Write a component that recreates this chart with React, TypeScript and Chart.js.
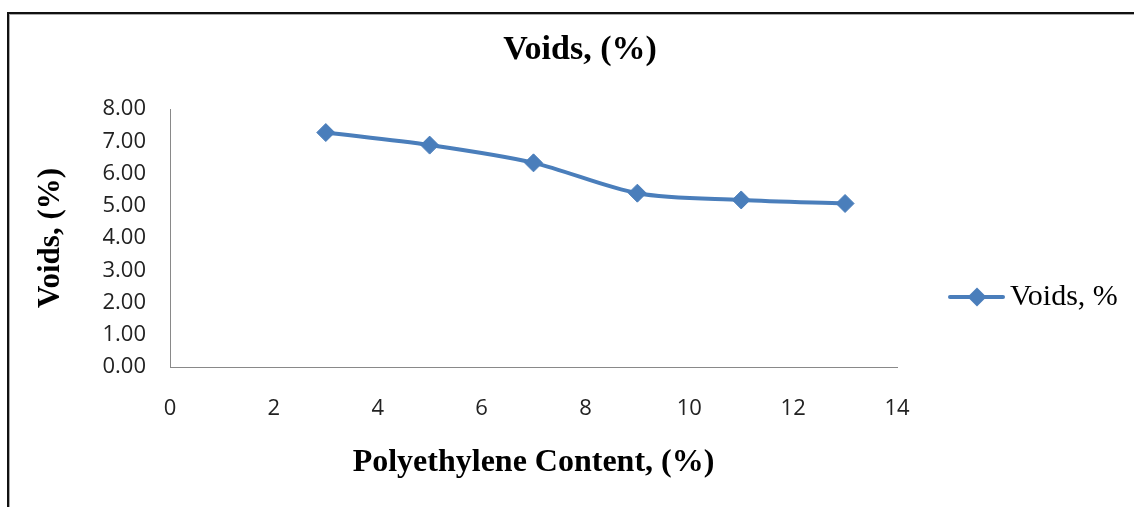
import React, { useEffect, useRef } from "react";
import { Chart, registerables } from "chart.js";

Chart.register(...registerables);

const polyethyleneContent = [3, 5, 7, 9, 11, 13];
const voidsValues = [7.27, 6.88, 6.33, 5.39, 5.18, 5.07];
const seriesLabel = "Voids, %";
const chartTitle = "Voids, (%)";
const xTitle = "Polyethylene Content, (%)";
const yTitle = "Voids, (%)";

const BLUE = "#4A7EBB";

const lineLegendPlugin = {
  id: "lineLegend",
  afterDraw(chart: any) {
    const ds = chart.data.datasets[0];
    const { ctx, chartArea } = chart;
    const x0 = chartArea.right + 53;
    const y = chartArea.top + 188;
    ctx.save();
    ctx.strokeStyle = ds.borderColor;
    ctx.lineWidth = 4;
    ctx.lineCap = "round";
    ctx.beginPath();
    ctx.moveTo(x0, y);
    ctx.lineTo(x0 + 53, y);
    ctx.stroke();
    const cx = x0 + 27;
    const r = 9.5;
    ctx.fillStyle = ds.pointBackgroundColor;
    ctx.beginPath();
    ctx.moveTo(cx, y - r);
    ctx.lineTo(cx + r, y);
    ctx.lineTo(cx, y + r);
    ctx.lineTo(cx - r, y);
    ctx.closePath();
    ctx.fill();
    ctx.fillStyle = "#000";
    ctx.font = '30px "Liberation Serif"';
    ctx.textBaseline = "middle";
    ctx.textAlign = "left";
    ctx.fillText(ds.label, x0 + 60, y);
    ctx.restore();
  },
};

export default function App() {
  const ref = useRef<HTMLCanvasElement | null>(null);

  useEffect(() => {
    if (!ref.current) return;
    const chart = new Chart(ref.current, {
      type: "line",
      data: {
        datasets: [
          {
            label: seriesLabel,
            data: polyethyleneContent.map((x, i) => ({ x, y: voidsValues[i] })),
            borderColor: BLUE,
            backgroundColor: BLUE,
            pointBackgroundColor: BLUE,
            pointBorderColor: BLUE,
            borderWidth: 4,
            pointStyle: "rectRot",
            pointRadius: 9,
            pointBorderWidth: 1,
            tension: 0.3,
            fill: false,
          },
        ],
      },
      plugins: [lineLegendPlugin],
      options: {
        responsive: false,
        animation: false,
        layout: { padding: { left: 26, right: 0, top: 0, bottom: 0 } },
        plugins: {
          legend: { display: false },
          tooltip: { enabled: false },
          title: {
            display: true,
            text: chartTitle,
            color: "#000",
            font: { family: '"Liberation Serif"', size: 34, weight: "bold", lineHeight: 1.2 },
            padding: { top: 30, bottom: 38.2 },
          },
        },
        scales: {
          x: {
            type: "linear",
            min: 0,
            max: 14,
            grid: { display: false, drawTicks: false },
            border: { display: true, color: "#898989", width: 1 },
            ticks: {
              stepSize: 2,
              autoSkip: false,
              maxRotation: 0,
              padding: 29,
              color: "#222",
              font: { family: '"Open Sans"', size: 22, lineHeight: 1.2 },
            },
            title: {
              display: true,
              text: xTitle,
              color: "#000",
              font: { family: '"Liberation Serif"', size: 32, weight: "bold", lineHeight: 1.2 },
              padding: { top: 0, bottom: 25 },
            },
            afterFit(scale: any) {
              scale.height = 140;
            },
          },
          y: {
            type: "linear",
            min: 0,
            max: 8,
            grid: { display: false, drawTicks: false },
            border: { display: true, color: "#898989", width: 1 },
            ticks: {
              stepSize: 1,
              padding: 24,
              color: "#222",
              font: { family: '"Open Sans"', size: 22, lineHeight: 1.2 },
              callback: (v: any) => Number(v).toFixed(2),
            },
            title: {
              display: true,
              text: yTitle,
              color: "#000",
              font: { family: '"Liberation Serif"', size: 31, weight: "bold", lineHeight: 1.2 },
              padding: { top: 6, bottom: 0 },
            },
            afterFit(scale: any) {
              scale.width = 144;
            },
          },
          spacer: {
            type: "linear",
            position: "right",
            display: true,
            grid: { display: false, drawTicks: false },
            border: { display: false },
            ticks: { display: false },
            afterFit(scale: any) {
              scale.width = 237;
            },
          },
        },
      } as any,
    });
    return () => chart.destroy();
  }, []);

  return (
    <div
      style={{
        position: "fixed",
        left: 0,
        top: 0,
        width: 1134,
        height: 507,
        background: "#fff",
        overflow: "hidden",
      }}
    >
      <div
        style={{
          position: "absolute",
          left: 7,
          top: 12,
          width: 1200,
          height: 600,
          borderLeft: "2px solid #111",
          borderTop: "2px solid #111",
          boxShadow: "inset 1px 1px 0 #aaa",
        }}
      />
      <canvas
        ref={ref}
        width={1134}
        height={507}
        style={{ position: "absolute", left: 0, top: 0, width: 1134, height: 507 }}
      />
    </div>
  );
}
